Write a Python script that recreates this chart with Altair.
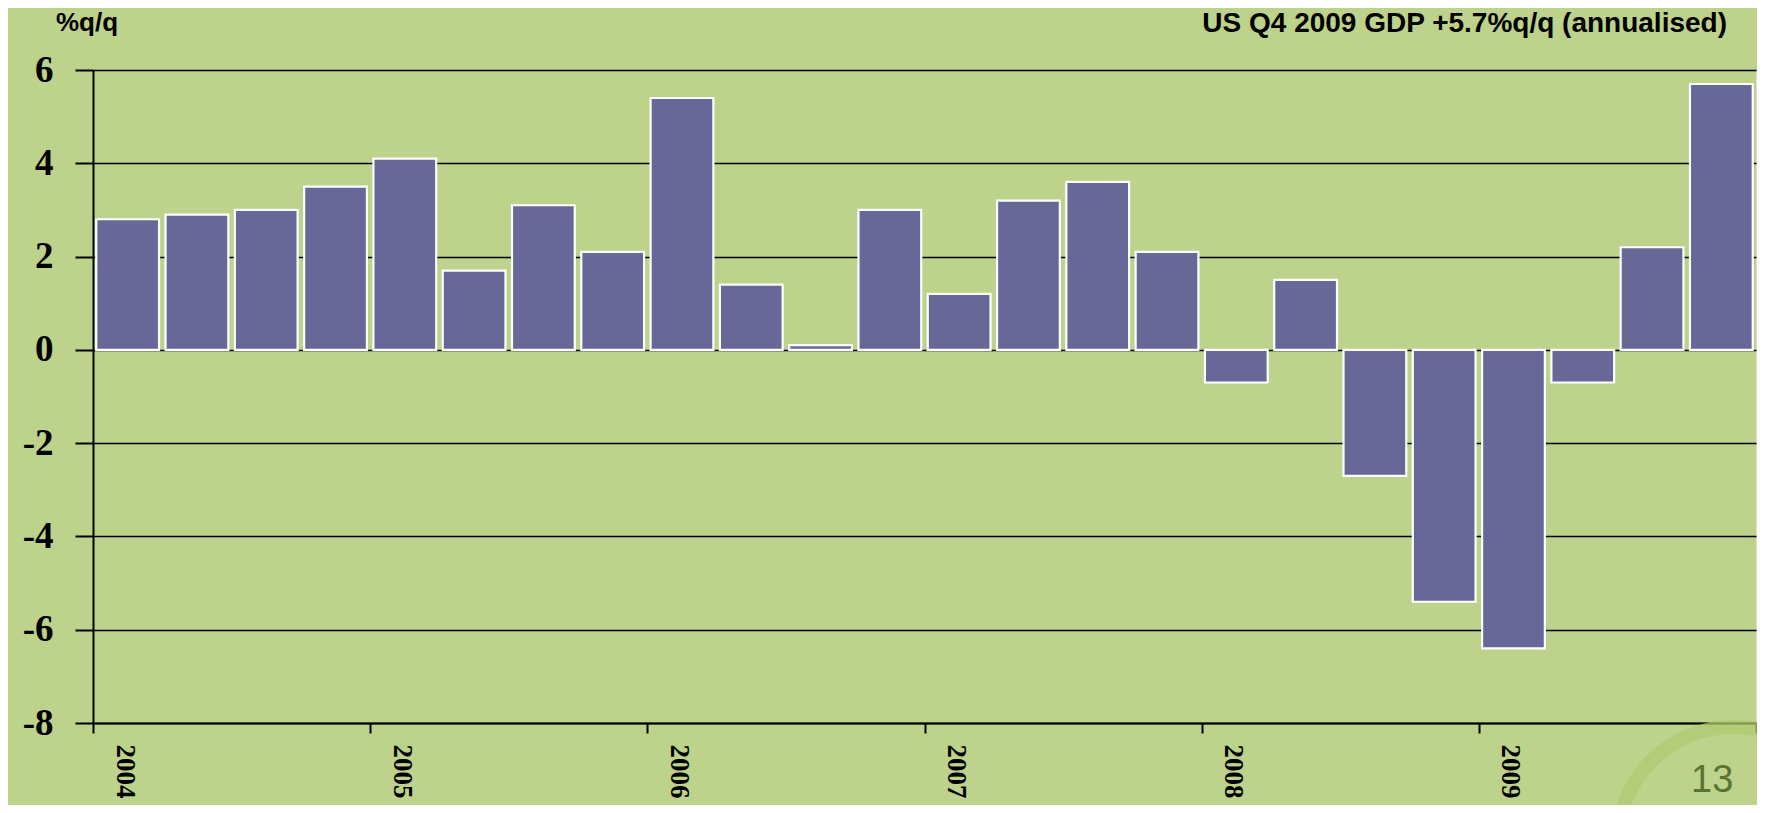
import altair as alt
import pandas as pd

quarters = ["2004Q1","2004Q2","2004Q3","2004Q4","2005Q1","2005Q2","2005Q3","2005Q4",
            "2006Q1","2006Q2","2006Q3","2006Q4","2007Q1","2007Q2","2007Q3","2007Q4",
            "2008Q1","2008Q2","2008Q3","2008Q4","2009Q1","2009Q2","2009Q3","2009Q4"]
gdp = [2.8, 2.9, 3.0, 3.5, 4.1, 1.7, 3.1, 2.1,
       5.4, 1.4, 0.1, 3.0, 1.2, 3.2, 3.6, 2.1,
       -0.7, 1.5, -2.7, -5.4, -6.4, -0.7, 2.2, 5.7]
y_ticks = [-8, -6, -4, -2, 0, 2, 4, 6]
x_ticks = [0, 4, 8, 12, 16, 20, 24]
first_year = 2004

df = pd.DataFrame({"quarter": quarters, "gdp": gdp, "idx": list(range(len(quarters)))})

BG = "#BDD28A"
BAR = "#676798"

xscale = alt.Scale(domain=[0, len(quarters)], nice=False, zero=False)
yscale = alt.Scale(domain=[-8, 6], nice=False)

bars = alt.Chart(df).transform_calculate(
    x0="datum.idx + 0.047", x1="datum.idx + 0.953", base="0"
).mark_bar(color=BAR, stroke="white", strokeWidth=2.2).encode(
    x=alt.X("x0:Q", scale=xscale, axis=alt.Axis(
        values=x_ticks, title=None, grid=False,
        labelExpr=f"datum.value < {len(quarters)} ? '' + ({first_year} + datum.value/4) : ''",
        labelAngle=90, labelAlign="left", labelBaseline="middle",
        labelFont="Liberation Serif", labelFontWeight="bold", labelFontSize=27,
        labelColor="black", labelPadding=11, labelOffset=31, tickSize=10,
        labelOverlap=False, labelBound=False,
        domainColor="black", domainWidth=2, tickColor="black", tickWidth=2)),
    x2="x1:Q",
    y=alt.Y("gdp:Q", scale=yscale, axis=alt.Axis(
        values=y_ticks, title=None, grid=True, gridColor="black", gridWidth=1.6,
        labelExpr="'' + datum.value",
        labelFont="Liberation Serif", labelFontWeight="bold", labelFontSize=37,
        labelColor="black", labelPadding=22, tickSize=18,
        domainColor="black", domainWidth=2, tickColor="black", tickWidth=2)),
    y2="base:Q",
)

one = pd.DataFrame({"k": [0]})

swirl = alt.Chart(one).mark_arc(
    radius=122, radius2=108, theta=4.55, theta2=7.5, color="#AFC971", opacity=0.75
).encode(x=alt.value(1640), y=alt.value(772))

left_title = alt.Chart(one).mark_text(
    text="%q/q", font="Liberation Sans", fontWeight="bold", fontSize=26,
    align="left", baseline="alphabetic", color="black"
).encode(x=alt.value(-37), y=alt.value(-39))

right_title = alt.Chart(one).mark_text(
    text="US Q4 2009 GDP +5.7%q/q (annualised)", font="Liberation Sans",
    fontWeight="bold", fontSize=28, align="right", baseline="alphabetic", color="black"
).encode(x=alt.value(1634), y=alt.value(-38))

page_no = alt.Chart(one).mark_text(
    text="13", font="Liberation Sans", fontSize=38,
    align="left", baseline="alphabetic", color="#5B7330"
).encode(x=alt.value(1598), y=alt.value(722))

chart = alt.layer(swirl, bars, left_title, right_title, page_no).properties(
    width=1663, height=653,
    background=BG,
    padding={"left": 85, "top": 62, "right": 1, "bottom": 82},
    autosize=alt.AutoSizeParams(type="none"),
).configure_view(stroke="black", strokeWidth=2).configure(
    background=BG
)

chart.save("out.html", embed_options={"renderer": "svg", "actions": False})
